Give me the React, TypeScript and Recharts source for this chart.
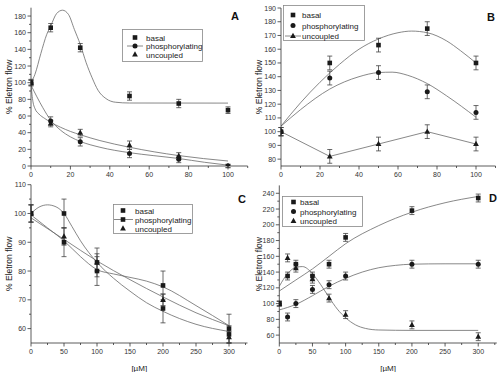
import React from 'react';
import { ComposedChart, Scatter, Line, XAxis, YAxis, ErrorBar } from 'recharts';

type Pt = [number, number];
type Shape = 'square' | 'circle' | 'triangle';

// ---------- panel A ----------
const xA = [0, 10, 25, 50, 75, 100];
const basalA = [100, 166, 142, 84, 75, 67];
const basalAErr = [4, 5, 5, 5, 5, 4];
const phosA = [100, 54, 29, 15, 8, 0];
const phosAErr = [3, 5, 5, 5, 4, 2];
const uncA = [100, 51, 40, 25, 12, 0];
const uncAErr = [3, 4, 4, 5, 4, 2];
// fitted curves
const fitBasalA: Pt[] = [[0, 100], [2, 110], [5, 135], [8, 158], [10, 168], [13, 183], [16, 187], [19, 182], [22, 164], [25, 146], [28, 124], [31, 106], [34, 91], [38, 81], [43, 76.5], [50, 75.6], [100, 75.5]];
const fitPhosA: Pt[] = [[0, 97], [3, 83], [6, 70], [10, 55], [15, 43], [20, 35], [25, 29.5], [35, 22.5], [50, 16], [62, 12.5], [75, 9], [88, 4.5], [100, 1]];
const fitUncA: Pt[] = [[0, 100], [0.5, 86], [1, 77], [2, 69], [4, 62.5], [7, 57], [10, 52.5], [15, 46.5], [20, 41.5], [25, 37.5], [35, 30.5], [50, 22.5], [75, 12.5], [100, 6]];

// ---------- panel B ----------
const xB = [0, 25, 50, 75, 100];
const basalB = [100, 150, 163, 175, 150];
const basalBErr = [3, 5, 5, 5, 5];
const phosB = [100, 139, 143, 129, 114];
const phosBErr = [3, 5, 5, 5, 5];
const uncB = [100, 82, 91, 100, 91];
const uncBErr = [3, 5, 5, 5, 5];
const fitBasalB: Pt[] = [[0, 104], [10, 121], [20, 136], [30, 149], [40, 160], [50, 167.5], [60, 172], [67, 173.2], [75, 172], [85, 166], [92, 159], [100, 150]];
const fitPhosB: Pt[] = [[0, 104], [10, 116], [25, 131], [40, 140], [50, 143], [57, 143.3], [65, 141], [75, 135], [85, 126], [100, 110.5]];

// ---------- panel C ----------
const xC = [0, 50, 100, 200, 300];
const basalC = [100, 100, 83, 67, 58];
const basalCErr = [3, 5, 5, 5, 3];
const phosC = [100, 90, 80, 75, 60];
const phosCErr = [3, 5, 5, 5, 5];
const uncC = [100, 92, 83, 70, 57];
const uncCErr = [3, 3, 3, 2, 2];
const fitBasalC: Pt[] = [[0, 100], [12, 102.2], [25, 103], [38, 102.3], [50, 100], [62, 95.5], [75, 90.5], [100, 83], [125, 77.5], [150, 73], [175, 69], [200, 66], [250, 61.5], [300, 59]];
const fitPhosC: Pt[] = [[0, 99.5], [25, 95], [50, 90.5], [75, 85], [100, 80.5], [125, 79], [150, 77.8], [175, 76.5], [200, 74.5], [250, 68], [300, 61]];
const fitUncC: Pt[] = [[0, 98.5], [50, 91], [100, 83.5], [150, 77], [200, 71], [250, 65.5], [300, 61]];

// ---------- panel D ----------
const xD = [0, 12.5, 25, 50, 75, 100, 200, 300];
const basalD = [100, 135, 150, 135, 150, 184, 218, 234];
const basalDErr = [3, 5, 5, 5, 5, 5, 5, 5];
const phosD = [100, 83, 100, 118, 124, 135, 150, 150];
const phosDErr = [3, 5, 5, 5, 5, 5, 5, 5];
const uncD = [100, 158, 145, 131, 107, 86, 73, 58];
const uncDErr = [3, 5, 5, 5, 5, 5, 5, 5];
const fitBasalD: Pt[] = [[0, 116], [25, 130], [50, 144], [75, 160], [100, 176], [150, 199], [200, 216], [250, 228], [300, 236]];
const fitPhosD: Pt[] = [[0, 92], [25, 99], [50, 110], [75, 122], [100, 132], [125, 140], [150, 145.5], [175, 148.5], [200, 150], [250, 150.5], [300, 150.5]];
const fitUncD: Pt[] = [[0, 122], [12.5, 138], [25, 146], [35, 147], [50, 138], [62.5, 124], [75, 108], [87.5, 93], [100, 82], [115, 73], [130, 68.5], [150, 66.5], [200, 66], [300, 66]];

// ---------- ticks ----------
const xMajorAB = [0, 20, 40, 60, 80, 100];
const xMinorAB = [10, 30, 50, 70, 90, 110];
const yMajorA = [0, 20, 40, 60, 80, 100, 120, 140, 160, 180];
const yMinorA = [10, 30, 50, 70, 90, 110, 130, 150, 170];
const yMajorB = [80, 90, 100, 110, 120, 130, 140, 150, 160, 170, 180, 190];
const xMajorCD = [0, 50, 100, 150, 200, 250, 300];
const xMinorCD = [25, 75, 125, 175, 225, 275, 325];
const yMajorC = [60, 70, 80, 90, 100, 110];
const yMinorC = [65, 75, 85, 95, 105];
const yMajorD = [60, 80, 100, 120, 140, 160, 180, 200, 220, 240];
const yMinorD = [70, 90, 110, 130, 150, 170, 190, 210, 230];

const legendLabels = ['basal', 'phosphorylating', 'uncoupled'];

const FONT = '"Liberation Sans Narrow", "Liberation Sans", Arial, sans-serif';
const TEXT_FONT = '"Liberation Sans", Arial, sans-serif';
const INK = '#1a1a1a';
const AXIS = '#333';
const FIT = '#6a6a6a';

const toPts = (xs: number[], ys: number[], es: number[]) => xs.map((x, i) => ({ x, y: ys[i], err: es[i] }));
const toLine = (pts: Pt[]) => pts.map(([x, y]) => ({ x, y }));

function Mark({ cx, cy, shape }: { cx: number; cy: number; shape: Shape }) {
  if (shape === 'square') return <rect x={cx - 2.3} y={cy - 2.3} width={4.6} height={4.6} fill={INK} />;
  if (shape === 'circle') return <circle cx={cx} cy={cy} r={2.5} fill={INK} />;
  return <polygon points={`${cx},${cy - 3.2} ${cx + 2.9},${cy + 2.1} ${cx - 2.9},${cy + 2.1}`} fill={INK} />;
}

const xTick = (majors: number[]) => (p: any) => {
  const v = p.payload.value;
  const major = majors.includes(v);
  return (
    <g>
      <line x1={p.x} x2={p.x} y1={p.y} y2={p.y + (major ? 3.5 : 2)} stroke={AXIS} strokeWidth={0.8} />
      {major && (
        <text x={p.x} y={p.y + 11} textAnchor="middle" fontSize={7} fill="#333" fontFamily={FONT}>{v}</text>
      )}
    </g>
  );
};

const yTick = (majors: number[]) => (p: any) => {
  const v = p.payload.value;
  const major = majors.includes(v);
  return (
    <g>
      <line x1={p.x} x2={p.x - (major ? 3.5 : 2)} y1={p.y} y2={p.y} stroke={AXIS} strokeWidth={0.8} />
      {major && (
        <text x={p.x - 5} y={p.y + 2.5} textAnchor="end" fontSize={7} fill="#333" fontFamily={FONT}>{v}</text>
      )}
    </g>
  );
};

interface Series { pts: { x: number; y: number; err: number }[]; shape: Shape; fit?: Pt[]; linear?: boolean }
interface PanelProps {
  left: number; top: number; width: number; height: number;
  margin: { top: number; right: number; bottom: number; left: number };
  yWidth: number; xHeight: number;
  xDomain: [number, number]; yDomain: [number, number];
  xMajor: number[]; xMinor: number[]; yMajor: number[]; yMinor: number[];
  series: Series[]; xLabel?: string;
}

function Panel(p: PanelProps) {
  const xTicks = [...p.xMajor, ...p.xMinor].sort((a, b) => a - b);
  const yTicks = [...p.yMajor, ...p.yMinor].sort((a, b) => a - b);
  return (
    <div style={{ position: 'absolute', left: p.left, top: p.top }}>
      <ComposedChart width={p.width} height={p.height} margin={p.margin}>
        <XAxis
          type="number" dataKey="x" domain={p.xDomain} ticks={xTicks} interval={0}
          tickSize={0} tickMargin={0} tickLine={false} tick={xTick(p.xMajor)}
          axisLine={{ stroke: AXIS, strokeWidth: 0.8 }} height={p.xHeight} allowDataOverflow
          label={p.xLabel ? { value: p.xLabel, position: 'insideBottom', offset: 1, fontSize: 8, fill: '#222', fontFamily: TEXT_FONT } : undefined}
        />
        <YAxis
          type="number" dataKey="y" domain={p.yDomain} ticks={yTicks} interval={0}
          tickSize={0} tickMargin={0} tickLine={false} tick={yTick(p.yMajor)}
          axisLine={{ stroke: AXIS, strokeWidth: 0.8 }} width={p.yWidth} allowDataOverflow
          label={{ value: '% Eletron flow', angle: -90, position: 'insideLeft', offset: 9, fontSize: 8.5, fill: '#222', fontFamily: TEXT_FONT, style: { textAnchor: 'middle' } }}
        />
        {p.series.map((s, i) =>
          s.fit ? (
            <Line key={`f${i}`} data={toLine(s.fit)} dataKey="y" type="monotone" stroke={FIT} strokeWidth={0.8}
              dot={false} activeDot={false} isAnimationActive={false} />
          ) : s.linear ? (
            <Line key={`f${i}`} data={s.pts} dataKey="y" type="linear" stroke={FIT} strokeWidth={0.8}
              dot={false} activeDot={false} isAnimationActive={false} />
          ) : null
        )}
        {p.series.map((s, i) => (
          <Scatter key={`s${i}`} data={s.pts} dataKey="y" isAnimationActive={false}
            shape={(q: any) => <Mark cx={q.cx} cy={q.cy} shape={s.shape} />}>
            <ErrorBar dataKey="err" direction="y" width={2.5} stroke="#444" strokeWidth={0.8} />
          </Scatter>
        ))}
      </ComposedChart>
    </div>
  );
}

interface LegendRow { label: string; shape: Shape; line: boolean }
interface LegendProps {
  left: number; top: number; width: number; height: number;
  rowY: number[]; markX: number; textX: number; lineX: [number, number]; rows: LegendRow[];
}

function LegendBox(l: LegendProps) {
  return (
    <svg style={{ position: 'absolute', left: l.left, top: l.top }} width={l.width} height={l.height}>
      <rect x={0.5} y={0.5} width={l.width - 1} height={l.height - 1} fill="#fff" stroke="#888" strokeWidth={0.8} />
      {l.rows.map((r, i) => (
        <g key={r.label}>
          {r.line && <line x1={l.lineX[0]} x2={l.lineX[1]} y1={l.rowY[i]} y2={l.rowY[i]} stroke={FIT} strokeWidth={0.8} />}
          <Mark cx={l.markX} cy={l.rowY[i]} shape={r.shape} />
          <text x={l.textX} y={l.rowY[i] + 3} fontSize={8} fill="#222" fontFamily={TEXT_FONT}>{r.label}</text>
        </g>
      ))}
    </svg>
  );
}

const Letter = ({ x, y, t }: { x: number; y: number; t: string }) => (
  <div style={{ position: 'absolute', left: x - 6, top: y - 7, width: 12, textAlign: 'center', fontFamily: TEXT_FONT, fontWeight: 'bold', fontSize: 11, lineHeight: '14px', color: '#111' }}>{t}</div>
);

const shapes: Shape[] = ['square', 'circle', 'triangle'];

export default function App() {
  return (
    <div style={{ position: 'absolute', left: 0, top: 0, width: 500, height: 372, background: '#fff', overflow: 'hidden' }}>
      <Panel
        left={0} top={0} width={250} height={186}
        margin={{ top: 7.7, right: 2.3, bottom: 0, left: 0 }} yWidth={31} xHeight={20}
        xDomain={[0, 110]} yDomain={[0, 190]}
        xMajor={xMajorAB} xMinor={xMinorAB} yMajor={yMajorA} yMinor={yMinorA}
        series={[
          { pts: toPts(xA, basalA, basalAErr), shape: 'square', fit: fitBasalA },
          { pts: toPts(xA, phosA, phosAErr), shape: 'circle', fit: fitPhosA },
          { pts: toPts(xA, uncA, uncAErr), shape: 'triangle', fit: fitUncA },
        ]}
      />
      <Panel
        left={250} top={0} width={250} height={186}
        margin={{ top: 8, right: 4.5, bottom: 0, left: 0 }} yWidth={31} xHeight={20}
        xDomain={[0, 110]} yDomain={[75, 190]}
        xMajor={xMajorAB} xMinor={xMinorAB} yMajor={yMajorB} yMinor={[]}
        series={[
          { pts: toPts(xB, basalB, basalBErr), shape: 'square', fit: fitBasalB },
          { pts: toPts(xB, phosB, phosBErr), shape: 'circle', fit: fitPhosB },
          { pts: toPts(xB, uncB, uncBErr), shape: 'triangle', linear: true },
        ]}
      />
      <Panel
        left={0} top={178} width={250} height={194}
        margin={{ top: 6.7, right: 2.5, bottom: 0, left: 0 }} yWidth={31} xHeight={29}
        xDomain={[0, 328]} yDomain={[55, 110]}
        xMajor={xMajorCD} xMinor={xMinorCD} yMajor={yMajorC} yMinor={yMinorC}
        xLabel="[µM]"
        series={[
          { pts: toPts(xC, basalC, basalCErr), shape: 'square', fit: fitBasalC },
          { pts: toPts(xC, phosC, phosCErr), shape: 'square', fit: fitPhosC },
          { pts: toPts(xC, uncC, uncCErr), shape: 'triangle', fit: fitUncC },
        ]}
      />
      <Panel
        left={250} top={178} width={250} height={194}
        margin={{ top: 7.4, right: 3.2, bottom: 0, left: 0 }} yWidth={29.3} xHeight={29}
        xDomain={[0, 328]} yDomain={[50, 250]}
        xMajor={xMajorCD} xMinor={xMinorCD} yMajor={yMajorD} yMinor={yMinorD}
        xLabel="[µM]"
        series={[
          { pts: toPts(xD, uncD, uncDErr), shape: 'triangle', fit: fitUncD },
          { pts: toPts(xD, basalD, basalDErr), shape: 'square', fit: fitBasalD },
          { pts: toPts(xD, phosD, phosDErr), shape: 'circle', fit: fitPhosD },
        ]}
      />

      <LegendBox left={122} top={29} width={81} height={33} rowY={[8.5, 17, 25.5]} markX={13} textX={24} lineX={[5, 21]}
        rows={legendLabels.map((label, i) => ({ label, shape: shapes[i], line: i === 1 }))} />
      <LegendBox left={283} top={5} width={82} height={36} rowY={[10, 20.5, 31]} markX={10} textX={19} lineX={[2, 18]}
        rows={legendLabels.map((label, i) => ({ label, shape: shapes[i], line: i === 2 }))} />
      <LegendBox left={113} top={204} width={80} height={30} rowY={[6.5, 15.5, 24.5]} markX={10} textX={22} lineX={[1, 20]}
        rows={legendLabels.map((label, i) => ({ label, shape: i === 1 ? 'square' : shapes[i], line: i === 1 }))} />
      <LegendBox left={282} top={196} width={81} height={31} rowY={[6, 15.5, 25]} markX={11.5} textX={18} lineX={[0, 0]}
        rows={legendLabels.map((label, i) => ({ label, shape: shapes[i], line: false }))} />

      <Letter x={235} y={16} t="A" />
      <Letter x={491} y={17} t="B" />
      <Letter x={242} y={199} t="C" />
      <Letter x={493} y={198} t="D" />
    </div>
  );
}
